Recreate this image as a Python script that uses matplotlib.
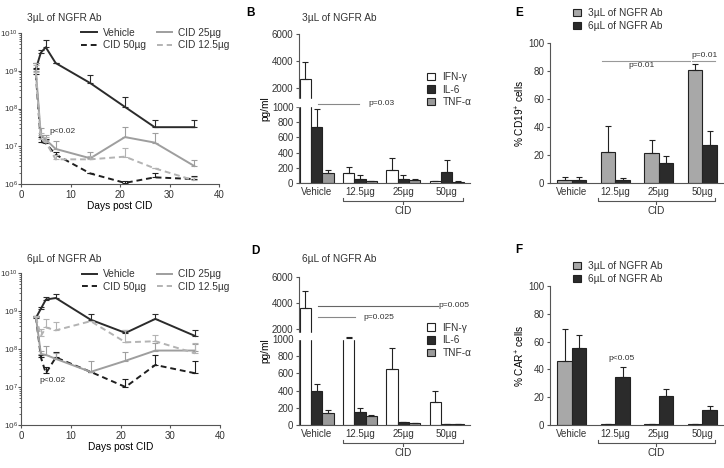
import numpy as np
import matplotlib
matplotlib.use('Agg')
import matplotlib.pyplot as plt
from matplotlib.patches import Patch, Rectangle
from matplotlib.transforms import blended_transform_factory
from matplotlib.ticker import NullFormatter

plt.rcParams['font.family'] = ['Liberation Sans', 'DejaVu Sans']
plt.rcParams['mathtext.fontset'] = 'custom'
plt.rcParams['mathtext.rm'] = 'Liberation Sans'
plt.rcParams['mathtext.default'] = 'regular'
plt.rcParams['axes.edgecolor'] = '#555555'
plt.rcParams['axes.linewidth'] = 0.8
plt.rcParams['xtick.color'] = '#555555'
plt.rcParams['ytick.color'] = '#555555'
plt.rcParams['xtick.labelcolor'] = '#333333'
plt.rcParams['ytick.labelcolor'] = '#333333'
plt.rcParams['text.color'] = '#333333'

# --- data: tumour signal over time (panels A and C)
days = [3, 4, 5, 7, 14, 21, 27, 35]

a_vehicle = [1.1e9, 3.0e9, 4.2e9, 1.6e9, 4.7e8, 1.1e8, 3.2e7, 3.2e7]
a_vehicle_up = [1.6e9, 3.6e9, 6.5e9, 1.6e9, 7.5e8, 2.0e8, 5.0e7, 4.9e7]
a_cid50 = [8e8, 1.3e7, 1.2e7, 6e6, 1.9e6, 1.07e6, 1.5e6, 1.35e6]
a_cid50_up = [1.2e9, 1.8e7, 1.6e7, 7e6, 1.9e6, 1.2e6, 2.0e6, 1.6e6]
a_cid25 = [1.0e9, 2.0e7, 1.5e7, 8.5e6, 4.8e6, 1.75e7, 1.25e7, 3.0e6]
a_cid25_up = [1.6e9, 3.0e7, 2.0e7, 1.4e7, 7.2e6, 3.2e7, 2.3e7, 4.2e6]
a_cid12 = [9e8, 1.6e7, 1.3e7, 4.5e6, 4.5e6, 5.3e6, 2.6e6, 1.25e6]
a_cid12_up = [1.4e9, 2.2e7, 1.8e7, 6e6, 5.5e6, 9e6, 2.6e6, 1.5e6]

c_vehicle = [6.6e8, 1.15e9, 2.0e9, 2.2e9, 5.9e8, 2.65e8, 6.2e8, 2.2e8]
c_vehicle_up = [7.5e8, 1.3e9, 2.4e9, 2.8e9, 8.5e8, 3.2e8, 8.5e8, 3.1e8]
c_cid50 = [7e8, 6e7, 2.3e7, 6e7, 2.5e7, 1.0e7, 3.8e7, 2.3e7]
c_cid50_up = [7.5e8, 7e7, 3.3e7, 8.5e7, 2.5e7, 1.6e7, 7e7, 4.9e7]
c_cid25 = [7e8, 7.4e7, 7e7, 5.5e7, 2.5e7, 4.9e7, 9.1e7, 9.1e7]
c_cid25_up = [7.5e8, 9e7, 1.23e8, 8e7, 4.8e7, 8.1e7, 1.4e8, 1.35e8]
c_cid12 = [7e8, 2.2e8, 3.7e8, 3.1e8, 5.4e8, 1.5e8, 1.6e8, 7.7e7]
c_cid12_up = [7.5e8, 3.4e8, 6.2e8, 5.1e8, 5.4e8, 3.1e8, 2.4e8, 1.4e8]

# --- data: cytokines (panels B and D), pg/ml
groups = ['Vehicle', '12.5µg', '25µg', '50µg']
b_ifn = [2700, 130, 170, 25]
b_ifn_up = [3900, 210, 330, 30]
b_il6 = [730, 55, 50, 150]
b_il6_up = [970, 100, 100, 300]
b_tnf = [130, 20, 35, 15]
b_tnf_up = [165, 25, 50, 20]

d_ifn = [3600, 1100, 650, 270]
d_ifn_up = [4900, 1230, 900, 390]
d_il6 = [400, 150, 30, 10]
d_il6_up = [480, 200, 40, 15]
d_tnf = [140, 100, 20, 8]
d_tnf_up = [175, 120, 25, 10]

# --- data: % CD19+ (E) and % CAR+ (F)
e_3ul = [2.5, 22, 21.5, 80.5]
e_3ul_up = [4.5, 41, 30.5, 85]
e_6ul = [2.5, 2, 14.5, 27.5]
e_6ul_up = [4, 3.5, 19, 37]
f_3ul = [46, 0.5, 0.5, 1]
f_3ul_up = [69, 0.5, 0.5, 1]
f_6ul = [55.5, 34.5, 21, 10.5]
f_6ul_up = [64.5, 42, 26, 13.5]

W, H = 724, 468
fig = plt.figure(figsize=(W / 100, H / 100), dpi=100)


def px_axes(l, t, r, b):
    ax = fig.add_axes([l / W, 1 - b / H, (r - l) / W, (b - t) / H])
    ax.spines['top'].set_visible(False)
    ax.spines['right'].set_visible(False)
    ax.tick_params(labelsize=7, length=2.5, width=0.8, pad=1.5)
    return ax


def up_err(vals, ups):
    vals = np.array(vals, dtype=float)
    return [np.zeros(len(vals)), np.array(ups, dtype=float) - vals]


def line_panel(ax, series, title, title_y, legend_y):
    handles = []
    for vals, ups, col, ls, lab in series:
        ax.errorbar(days, vals, yerr=up_err(vals, ups), fmt='none', ecolor=col,
                    elinewidth=0.8, capsize=2.5, capthick=0.8)
        h, = ax.plot(days, vals, color=col, ls=ls, lw=1.4, label=lab)
        handles.append(h)
    ax.set_yscale('log')
    ax.set_ylim(1e6, 1e10)
    ax.set_xlim(0, 40)
    ax.set_xticks([0, 10, 20, 30, 40])
    ax.yaxis.set_minor_formatter(NullFormatter())
    ax.tick_params(which='minor', length=1.3, width=0.6)
    ax.tick_params(axis='y', which='major', labelsize=5.9, pad=0.4, length=2)
    ax.set_xlabel('Days post CID', fontsize=7.3, labelpad=1)
    ax.text(0.03, title_y, title, transform=ax.transAxes, fontsize=7.3, va='center')
    ax.legend(handles=handles, ncol=2, loc='upper left', bbox_to_anchor=(0.305, legend_y),
              frameon=False, fontsize=7.3, handlelength=1.5, handletextpad=0.6,
              columnspacing=1.1, labelspacing=0.25, borderpad=0, borderaxespad=0)


def broken_scale(lo, k_low, gap, k_high):
    base = 1000 * k_low

    def fwd(y):
        y = np.asarray(y, dtype=float)
        return np.where(y <= 1000, y * k_low,
                        np.where(y < lo, base + (y - 1000) / (lo - 1000) * gap,
                                 base + gap + (y - lo) * k_high))

    def inv(v):
        v = np.asarray(v, dtype=float)
        return np.where(v <= base, v / k_low,
                        np.where(v < base + gap, 1000 + (v - base) / gap * (lo - 1000),
                                 lo + (v - base - gap) / k_high))
    return fwd, inv


def cid_bracket(ax, x0, x1, hpx, below_line, below_text):
    tr = blended_transform_factory(ax.transData, ax.transAxes)
    yb = -below_line / hpx
    tick = 3 / hpx
    xm = (x0 + x1) / 2
    ax.plot([x0, x0, x1, x1], [yb + tick, yb, yb, yb + tick], transform=tr,
            color='#555555', lw=0.8, clip_on=False)
    ax.plot([xm, xm], [yb, yb - tick], transform=tr, color='#555555', lw=0.8, clip_on=False)
    ax.text(xm, -below_text / hpx, 'CID', transform=tr, ha='center', va='center', fontsize=7.3)


def cyto_panel(ax, ifn, ifn_up, il6, il6_up, tnf, tnf_up, lo, k_low, gap, k_high,
               title, title_y, hpx, legend_y):
    x = np.arange(len(groups))
    w = 0.26
    fwd, inv = broken_scale(lo, k_low, gap, k_high)
    ax.set_yscale('function', functions=(fwd, inv))
    colors = ['white', '#2b2b2b', '#9a9a9a']
    labels = ['IFN-γ', 'IL-6', 'TNF-α']
    for off, vals, ups, col in [(-w, ifn, ifn_up, colors[0]), (0, il6, il6_up, colors[1]),
                                (w, tnf, tnf_up, colors[2])]:
        ax.bar(x + off, vals, width=w, color=col, edgecolor='#222222', lw=0.8, zorder=2)
        ax.errorbar(x + off, vals, yerr=up_err(vals, ups), fmt='none', ecolor='#222222',
                    elinewidth=0.8, capsize=2.2, capthick=0.8, zorder=4)
    ax.set_ylim(0, 6000)
    ax.set_xlim(-0.41, 3.54)
    ax.set_yticks([0, 200, 400, 600, 800, 1000, 2000, 4000, 6000])
    ax.set_xticks(x)
    ax.set_xticklabels(groups)
    ax.tick_params(axis='x', length=0, pad=3)
    ax.set_ylabel('pg/ml', fontsize=7.3, labelpad=1)
    # axis break
    tr = blended_transform_factory(ax.transAxes, ax.transData)
    ax.add_patch(Rectangle((-0.015, 1015), 1.1, lo - 1030, transform=tr, color='white',
                           zorder=3, clip_on=False))
    ax.text(0.02, title_y, title, transform=ax.transAxes, fontsize=7.3, va='center')
    handles = [Patch(facecolor=c, edgecolor='#222222', lw=0.8) for c in colors]
    ax.legend(handles, labels, loc='upper left', bbox_to_anchor=(0.749, legend_y), frameon=False,
              fontsize=7.3, handlelength=0.8, handleheight=0.8, handletextpad=0.7,
              labelspacing=0.25, borderpad=0, borderaxespad=0)
    cid_bracket(ax, 0.61, 3.38, hpx, 17.5, 28)


def pct_panel(ax, v3, v3_up, v6, v6_up, ylabel, hpx, legend_y):
    x = np.arange(len(groups))
    w = 1 / 3
    for off, vals, ups, col in [(-w / 2, v3, v3_up, '#a8a8a8'), (w / 2, v6, v6_up, '#2b2b2b')]:
        ax.bar(x + off, vals, width=w, color=col, edgecolor='#222222', lw=0.8, zorder=2)
        ax.errorbar(x + off, vals, yerr=up_err(vals, ups), fmt='none', ecolor='#222222',
                    elinewidth=0.8, capsize=2.2, capthick=0.8, zorder=4)
    ax.set_ylim(0, 100)
    ax.set_xlim(-0.5, 3.5)
    ax.set_yticks([0, 20, 40, 60, 80, 100])
    ax.set_xticks(x)
    ax.set_xticklabels(groups)
    ax.tick_params(axis='x', length=0, pad=3)
    ax.set_ylabel(ylabel, fontsize=7.3, labelpad=1)
    handles = [Patch(facecolor='#a8a8a8', edgecolor='#222222', lw=0.8),
               Patch(facecolor='#2b2b2b', edgecolor='#222222', lw=0.8)]
    ax.legend(handles, ['3µL of NGFR Ab', '6µL of NGFR Ab'], loc='upper left',
              bbox_to_anchor=(0.132, legend_y), frameon=False, fontsize=7.3,
              handlelength=0.8, handleheight=0.8, handletextpad=0.7, labelspacing=0.3,
              borderpad=0, borderaxespad=0)
    cid_bracket(ax, 0.6, 3.29, hpx, 18, 28)


# ---- A
ax_a = px_axes(21, 33, 219, 184)
line_panel(ax_a, [(a_vehicle, a_vehicle_up, '#2b2b2b', '-', 'Vehicle'),
                  (a_cid50, a_cid50_up, '#1f1f1f', (0, (3, 2)), 'CID 50µg'),
                  (a_cid25, a_cid25_up, '#9e9e9e', '-', 'CID 25µg'),
                  (a_cid12, a_cid12_up, '#b3b3b3', (0, (3, 2)), 'CID 12.5µg')],
           '3µL of NGFR Ab', 1.10, 1.035)
ax_a.text(8.3, 2.5e7, 'p<0.02', fontsize=6, ha='center', va='center')

# ---- C
ax_c = px_axes(21, 273, 220, 425)
line_panel(ax_c, [(c_vehicle, c_vehicle_up, '#2b2b2b', '-', 'Vehicle'),
                  (c_cid50, c_cid50_up, '#1f1f1f', (0, (3, 2)), 'CID 50µg'),
                  (c_cid25, c_cid25_up, '#9e9e9e', '-', 'CID 25µg'),
                  (c_cid12, c_cid12_up, '#b3b3b3', (0, (3, 2)), 'CID 12.5µg')],
           '6µL of NGFR Ab', 1.092, 1.025)
ax_c.text(6.3, 1.5e7, 'p<0.02', fontsize=6, ha='center', va='center')

# ---- B
ax_b = px_axes(299, 34, 470, 183)
cyto_panel(ax_b, b_ifn, b_ifn_up, b_il6, b_il6_up, b_tnf, b_tnf_up,
           1200, 0.076, 8, 0.0135, '3µL of NGFR Ab', 1.107, 149, 0.745)
ax_b.plot([0.03, 0.98], [1080, 1080], color='#888888', lw=0.8, zorder=5)
ax_b.text(1.2, 1080, 'p=0.03', fontsize=6, va='center', zorder=5)

# ---- D
ax_d = px_axes(299, 277, 470, 425)
cyto_panel(ax_d, d_ifn, d_ifn_up, d_il6, d_il6_up, d_tnf, d_tnf_up,
           1700, 0.086, 6, 0.013, '6µL of NGFR Ab', 1.12, 148, 0.69)
ax_d.plot([0.03, 2.8], [3800, 3800], color='#666666', lw=0.8, zorder=5)
ax_d.text(2.82, 3800, 'p=0.005', fontsize=6, va='center', zorder=5)
ax_d.plot([0.03, 0.88], [2900, 2900], color='#888888', lw=0.8, zorder=5)
ax_d.text(1.07, 2900, 'p=0.025', fontsize=6, va='center', zorder=5)

# ---- E
ax_e = px_axes(550, 43, 724, 183)
pct_panel(ax_e, e_3ul, e_3ul_up, e_6ul, e_6ul_up, '% CD19$^{+}$ cells', 140, 1.25)
ax_e.plot([0.69, 2.71], [87, 87], color='#999999', lw=0.8, clip_on=False)
ax_e.text(1.61, 83.6, 'p=0.01', fontsize=6, ha='center', va='center')
ax_e.plot([2.76, 3.29], [87, 87], color='#999999', lw=0.8, clip_on=False)
ax_e.text(3.06, 91.4, 'p=0.01', fontsize=6, ha='center', va='center')

# ---- F
ax_f = px_axes(550, 286, 724, 425)
pct_panel(ax_f, f_3ul, f_3ul_up, f_6ul, f_6ul_up, '% CAR$^{+}$ cells', 139, 1.18)
ax_f.text(1.15, 47.5, 'p<0.05', fontsize=6, ha='center', va='center')

# panel letters
for lab, xp, yp in [('B', 246, 13), ('D', 251, 251), ('E', 515, 13), ('F', 515, 250)]:
    fig.text(xp / W, 1 - yp / H, lab, fontsize=8.5, fontweight='bold', color='black',
             ha='left', va='center')

fig.savefig('out.png', dpi=100)
